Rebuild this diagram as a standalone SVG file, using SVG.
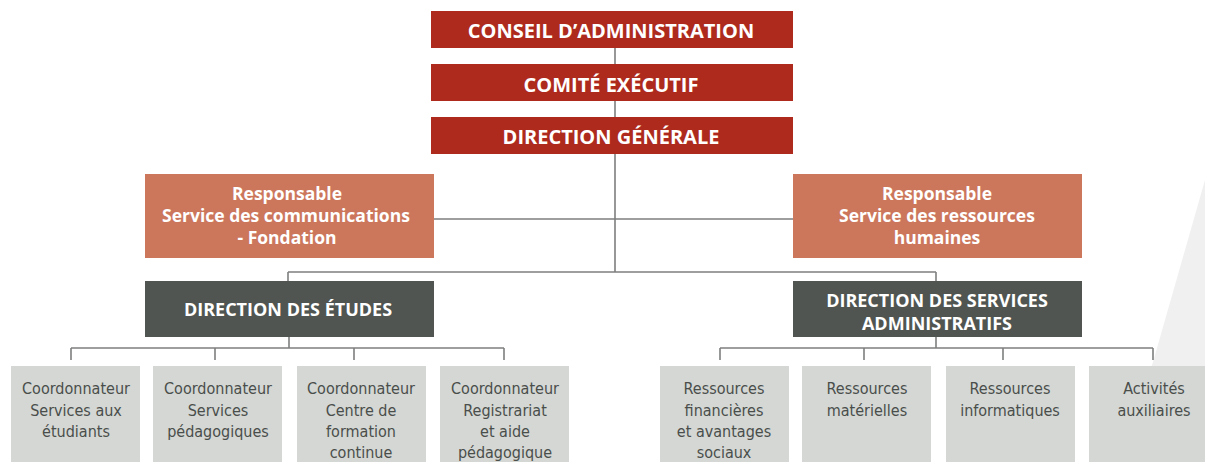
<svg xmlns="http://www.w3.org/2000/svg" width="1205" height="462" viewBox="0 0 1205 462">
<style>
.red{fill:#ad2a1d}
.sal{fill:#cc765c}
.dk{fill:#505551}
.lt{fill:#d4d7d4}
.tb{font-family:"Open Sans","Liberation Sans",sans-serif;font-weight:bold;fill:#fff;text-anchor:middle}
.t1{font-size:20px}
.t2{font-size:17.5px}
.t3{font-size:18px}
.tg{font-family:"Liberation Sans Narrow","DejaVu Sans Condensed",sans-serif;font-size:16px;fill:#4a4e4b;text-anchor:middle}
.ln{fill:none;stroke:#7d7f7e;stroke-width:1.6}
</style>
<rect width="1205" height="462" fill="#fff"/>
<polygon points="1205,180 1153,362 1120,462 1205,462" fill="#f0f0f0"/>
<g id="connectors">
<path class="ln" d="M615 48V64M615 101V117M615 154V272M434 219H793M288 272H936M288 272V281M936 272V281"/>
<path class="ln" d="M289 337V348M71 348H504M71 348V360M215 348V360M354 348V360M504 348V360"/>
<path class="ln" d="M936 337V348M720 348H1153M720 348V360M864 348V360M1003 348V360M1153 348V360"/>
</g>
<g id="conseil"><rect class="red" x="431" y="11" width="362" height="37"/><text class="tb t1" x="611" y="38">CONSEIL D’ADMINISTRATION</text></g>
<g id="comite"><rect class="red" x="431" y="64" width="362" height="37"/><text class="tb t1" x="611" y="91.5">COMITÉ EXÉCUTIF</text></g>
<g id="dg"><rect class="red" x="431" y="117" width="362" height="37"/><text class="tb t1" x="611" y="143.5">DIRECTION GÉNÉRALE</text></g>
<g id="resp-com"><rect class="sal" x="145" y="174" width="289" height="84"/><text class="tb t2"><tspan x="287" y="200">Responsable</tspan><tspan x="286" y="222">Service des communications</tspan><tspan x="287" y="244">- Fondation</tspan></text></g>
<g id="resp-rh"><rect class="sal" x="793" y="174" width="289" height="84"/><text class="tb t2"><tspan x="937" y="200">Responsable</tspan><tspan x="937" y="222">Service des ressources</tspan><tspan x="937" y="244">humaines</tspan></text></g>
<g id="dir-etudes"><rect class="dk" x="145" y="281" width="289" height="56"/><text class="tb t3" x="288" y="315.5">DIRECTION DES ÉTUDES</text></g>
<g id="dir-sa"><rect class="dk" x="793" y="281" width="289" height="56"/><text class="tb t3"><tspan x="937" y="306.5">DIRECTION DES SERVICES</tspan><tspan x="937" y="329.5">ADMINISTRATIFS</tspan></text></g>
<g id="c1"><rect class="lt" x="11" y="366" width="129" height="96"/><text class="tg"><tspan x="76" y="394">Coordonnateur</tspan><tspan x="76" y="416">Services aux</tspan><tspan x="76" y="437">étudiants</tspan></text></g>
<g id="c2"><rect class="lt" x="153" y="366" width="129" height="96"/><text class="tg"><tspan x="218" y="394">Coordonnateur</tspan><tspan x="218" y="416">Services</tspan><tspan x="218" y="437">pédagogiques</tspan></text></g>
<g id="c3"><rect class="lt" x="297" y="366" width="129" height="96"/><text class="tg"><tspan x="361" y="394">Coordonnateur</tspan><tspan x="361" y="416">Centre de</tspan><tspan x="361" y="437">formation</tspan><tspan x="361" y="458">continue</tspan></text></g>
<g id="c4"><rect class="lt" x="440" y="366" width="129" height="96"/><text class="tg"><tspan x="505" y="394">Coordonnateur</tspan><tspan x="505" y="416">Registrariat</tspan><tspan x="505" y="437">et aide</tspan><tspan x="505" y="458">pédagogique</tspan></text></g>
<g id="r1"><rect class="lt" x="660" y="366" width="129" height="96"/><text class="tg"><tspan x="724" y="394">Ressources</tspan><tspan x="724" y="416">financières</tspan><tspan x="724" y="437">et avantages</tspan><tspan x="724" y="458">sociaux</tspan></text></g>
<g id="r2"><rect class="lt" x="802" y="366" width="129" height="96"/><text class="tg"><tspan x="867" y="394">Ressources</tspan><tspan x="867" y="416">matérielles</tspan></text></g>
<g id="r3"><rect class="lt" x="946" y="366" width="129" height="96"/><text class="tg"><tspan x="1010" y="394">Ressources</tspan><tspan x="1010" y="416">informatiques</tspan></text></g>
<g id="r4"><rect class="lt" x="1089" y="366" width="116" height="96"/><text class="tg"><tspan x="1154" y="394">Activités</tspan><tspan x="1154" y="416">auxiliaires</tspan></text></g>
</svg>
